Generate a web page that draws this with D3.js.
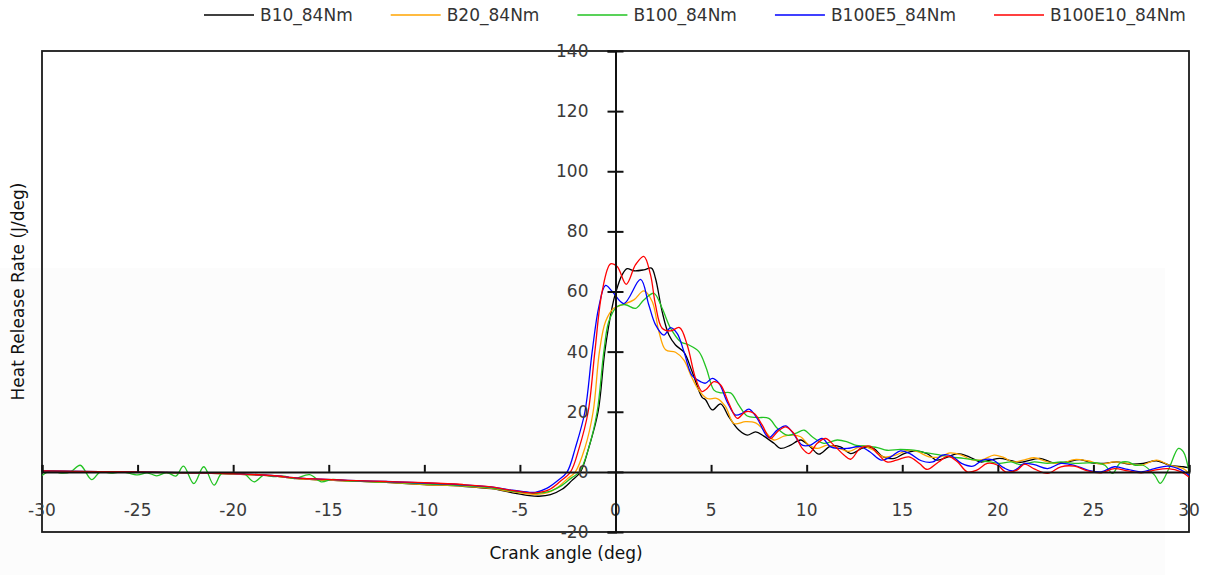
<!DOCTYPE html>
<html>
<head>
<meta charset="utf-8">
<script src="https://cdn.jsdelivr.net/npm/d3@7/dist/d3.min.js"></script>
<style>
  html, body { margin: 0; padding: 0; background: #ffffff; }
  svg { display: block; font-family: "DejaVu Sans", sans-serif; }
</style>
</head>
<body>
<svg id="chart" width="1208" height="575"></svg>
<script>
// ---------------- data ----------------
const seriesNames = ["B10_84Nm", "B20_84Nm", "B100_84Nm", "B100E5_84Nm", "B100E10_84Nm"];
const seriesColors = ["#000000", "#FFA500", "#22C322", "#0000FF", "#FF0000"];
const xTicks = [-30, -25, -20, -15, -10, -5, 0, 5, 10, 15, 20, 25, 30];
const yTicks = [-20, 0, 20, 40, 60, 80, 100, 120, 140];

// [crank angle (deg), heat release rate (J/deg)]
const B10 = [
  [-30,0.3],[-27,0.1],[-25,-0.1],[-22,-0.4],[-20,-0.7],[-18,-1.3],[-16.5,-2.3],[-14,-3.0],[-12,-3.5],
  [-10,-4.2],[-8,-4.8],[-6.5,-5.6],[-5.5,-6.8],[-4.5,-7.9],[-4.0,-8.1],[-3.4,-7.6],[-2.8,-5.8],[-2.3,-3.0],
  [-1.83,0],[-1.4,8],[-0.91,20],[-0.56,40],[-0.17,55],[0,59.4],[0.35,65.6],[0.61,67.6],[0.96,66.9],
  [1.48,67.2],[1.88,67.8],[2.09,64.4],[2.44,53.3],[2.79,45.6],[3.14,42.2],[3.58,39.8],[4.01,33.3],
  [4.53,24.8],[4.71,24],[5.06,20.6],[5.5,22.6],[5.93,18.3],[6.45,13.9],[6.89,12.2],[7.33,13.3],[7.76,11.9],
  [8.29,9.5],[8.63,7.8],[9.16,8.9],[9.68,10.6],[10.2,8.3],[10.64,5.9],[11.25,8.6],[11.77,8.3],[12.3,6.1],
  [13.0,8.1],[13.5,7.8],[14.0,5],[14.6,4.5],[15.1,6.1],[15.7,7],[16.3,6.1],[16.8,3.9],[17.4,5],[17.9,6.1],
  [18.5,5],[19.1,3.3],[19.6,3.9],[20.1,4.5],[20.7,3.7],[21.2,3.2],[22.2,4.5],[22.9,3],[23.6,3.3],[24.3,4.1],
  [24.9,3],[25.55,2.8],[26.2,3.3],[26.9,2.6],[27.6,2.8],[28.3,3.7],[29.0,2.2],[29.7,1.7],[30,1.4]
];
const B20 = [
  [-30,0.2],[-27,0],[-25,-0.1],[-22,-0.4],[-20,-0.7],[-18,-1.3],[-16.5,-2.3],[-14,-3.0],[-12,-3.5],
  [-10,-4.2],[-8,-4.7],[-6.5,-5.5],[-5.5,-6.5],[-4.5,-7.4],[-4.1,-7.5],[-3.5,-6.8],[-3.0,-5],[-2.5,-2.2],
  [-2.1,0],[-1.6,8],[-1.17,20],[-0.84,40],[-0.52,50],[-0.09,54.4],[0.35,55.6],[0.96,57.2],[1.48,60.2],
  [1.92,56.7],[2.27,46.7],[2.62,40.6],[3.14,39.8],[3.58,37.2],[3.95,32],[4.36,27.2],[4.8,24.4],[5.32,24.4],
  [5.76,21.7],[6.19,16.1],[6.8,16.7],[7.33,16.3],[7.76,13.9],[8.29,10.6],[8.81,11.9],[9.24,12.2],[9.68,11.7],
  [10.12,8.9],[10.55,7.8],[11.08,8.9],[11.6,8.1],[12.2,6.8],[12.9,8.6],[13.5,7.2],[14.0,5],[14.65,5.6],
  [15.3,7.2],[15.8,6.7],[16.4,5],[17.0,5],[17.5,6.3],[18.1,5.6],[18.6,4.1],[19.2,4.1],[19.8,5.6],[20.3,4.8],
  [20.8,3.3],[21.4,4.0],[21.9,4.7],[22.6,3.3],[23.3,2.8],[24.0,4.1],[24.7,3.7],[25.4,2.6],[26.1,3.3],
  [26.8,2.8],[27.5,2.2],[28.3,3.9],[29.0,2.2],[29.7,1.1],[30,-0.5]
];
const B100 = [
  [-30,-1.2],[-29.5,0.4],[-29,-0.4],[-28.5,0],[-28.0,2.2],[-27.4,-2.6],[-26.95,0],[-26.4,-0.4],[-25.8,0],
  [-25.0,-1.0],[-24.5,-0.3],[-24.0,-1.3],[-23.46,-0.2],[-23.0,-1.4],[-22.6,1.9],[-22.06,-3.9],[-21.54,1.7],
  [-21.0,-4.4],[-20.6,-0.5],[-20.0,-0.4],[-19.45,-0.5],[-18.9,-3.3],[-18.4,-1.1],[-17.9,-1.6],[-17.35,-1.4],
  [-16.8,-2.2],[-16.0,-0.9],[-15.4,-3.3],[-14.8,-2.5],[-14,-3],[-12,-3.4],[-10,-4.0],[-8,-4.6],[-6.5,-5.3],
  [-5.5,-6.3],[-4.5,-7.0],[-4.0,-7.1],[-3.4,-6.4],[-2.8,-4.5],[-2.3,-2.0],[-1.88,0],[-1.4,8],[-0.96,20],
  [-0.61,40],[-0.35,50],[0.09,55],[0.52,55.6],[1.05,54.4],[1.48,57.2],[2.01,59.4],[2.44,54.4],[2.88,47.8],
  [3.4,43.3],[3.84,42.2],[4.36,40],[4.75,34.5],[5.15,27.2],[5.5,26.3],[6.02,26.3],[6.45,22.2],[6.89,18.6],
  [7.41,18.1],[8.02,17.8],[8.46,14.5],[8.98,12.2],[9.42,12.8],[9.86,13.9],[10.29,11.7],[10.9,9.5],[11.6,10.6],
  [12.12,10],[12.6,8.8],[13.0,8.6],[13.7,8.1],[14.2,7.2],[14.9,7.5],[15.6,7.2],[16.3,6.3],[17.0,5.6],[17.5,5],
  [18.2,4.5],[18.9,3.9],[19.6,3.3],[20.1,2.8],[20.7,3.3],[21.2,2.4],[21.9,3.3],[22.6,2.8],[23.3,3.3],[24.0,2.8],
  [24.7,3],[25.2,3],[25.6,2.2],[26.0,-0.5],[26.4,3],[26.8,3.3],[27.2,2.2],[27.6,2.2],[28.2,-1.1],[28.5,-3.8],
  [28.95,1.1],[29.45,7.8],[29.7,6.7],[30,0]
];
const B100E5 = [
  [-30,0.3],[-27,0.1],[-25,0],[-22,-0.3],[-20,-0.6],[-18,-1.2],[-16.5,-2.1],[-14,-2.8],[-12,-3.2],
  [-10,-3.7],[-8,-4.3],[-6.5,-5.0],[-5.5,-6.0],[-4.5,-6.8],[-4.2,-6.8],[-3.6,-5.5],[-3.0,-2.8],[-2.53,0],
  [-2.1,8],[-1.6,20],[-1.22,40],[-0.87,55],[-0.52,62],[-0.17,60],[0.44,56],[1.31,64],[1.74,55.6],[2.09,49],
  [2.53,45.5],[2.88,48],[3.23,46],[3.58,40],[4.01,32],[4.45,30],[4.71,29.5],[5.06,31.1],[5.41,29.5],
  [5.84,23.3],[6.28,18.9],[6.63,19.5],[6.98,20.9],[7.41,17.8],[8.02,11.4],[8.46,13.9],[8.9,15.3],[9.24,13.3],
  [9.77,8.9],[10.2,8.9],[10.81,11.1],[11.25,8.3],[11.69,7.8],[12.12,7.8],[12.8,8.4],[13.3,6.7],[13.9,3.9],
  [14.4,5],[14.9,7],[15.4,6.1],[16.0,3.7],[16.6,3.3],[17.1,5.6],[17.6,5.2],[18.1,2.8],[18.7,1.9],[19.2,3.9],
  [19.7,4.1],[20.3,1.4],[20.8,0.3],[21.4,2.8],[21.9,2.4],[22.6,1.1],[23.3,2.8],[24.0,2.2],[24.7,0.6],
  [25.4,0],[26.1,1.7],[26.8,0.8],[27.5,0],[28.2,1.1],[28.9,1.9],[29.6,0.6],[30,-1.1]
];
const B100E10 = [
  [-30,0.3],[-27,0.1],[-25,0],[-22,-0.3],[-20,-0.6],[-18,-1.2],[-16.5,-2.1],[-14,-2.8],[-12,-3.2],
  [-10,-3.6],[-8,-4.2],[-6.5,-5.0],[-5.5,-6.1],[-4.5,-7.0],[-4.2,-7.0],[-3.5,-6.0],[-2.9,-3.2],[-2.35,0],
  [-1.9,8],[-1.43,20],[-1.08,40],[-0.70,60],[-0.26,69.2],[0.09,68.3],[0.56,62.4],[1.05,68.9],[1.48,71.7],
  [1.83,65.6],[2.09,55.6],[2.44,47.8],[2.88,46.9],[3.35,48],[3.75,42.2],[4.19,31.1],[4.53,26.7],[4.75,27.5],
  [5.15,30],[5.5,28.9],[5.93,22.8],[6.37,17.8],[6.8,20],[7.24,19.5],[7.67,15.6],[8.11,11.1],[8.46,13.3],
  [8.9,15],[9.33,12.8],[9.77,7.8],[10.12,6.1],[10.55,9.5],[10.99,11.1],[11.42,8.9],[11.95,5.6],[12.3,4.2],
  [12.8,7.8],[13.3,8.6],[13.7,6.1],[14.2,3.3],[14.7,3.9],[15.35,5],[15.9,2.8],[16.3,0.8],[16.9,3.3],
  [17.4,5.2],[17.9,3.3],[18.4,0],[18.9,0.6],[19.45,2.8],[20.0,2.2],[20.4,0],[21.0,0.6],[21.4,2.6],[21.9,1.0],
  [22.6,-0.5],[23.3,1.7],[24.0,1.9],[24.7,0.3],[25.4,-0.3],[26.1,1.1],[26.8,0.3],[27.5,-0.3],[28.2,0.6],
  [28.9,1.1],[29.6,0],[30,-1.7]
];
const seriesData = [B10, B20, B100, B100E5, B100E10];

// ---------------- layout ----------------
const svg = d3.select("#chart");
const plot = { left: 42, right: 1189, top: 51, bottom: 532 };
const x = d3.scaleLinear().domain([-30, 30]).range([plot.left, plot.right]);
const y = d3.scaleLinear().domain([-20, 140]).range([plot.bottom, plot.top]);

// faint background band (watermark area)
svg.append("rect").attr("x", 0).attr("y", 268).attr("width", 1165).attr("height", 307)
  .attr("fill", "#fcfcfc");

svg.append("defs").append("clipPath").attr("id", "clip")
  .append("rect").attr("x", plot.left).attr("y", plot.top)
  .attr("width", plot.right - plot.left).attr("height", plot.bottom - plot.top);

// plot frame
svg.append("rect").attr("x", plot.left).attr("y", plot.top)
  .attr("width", plot.right - plot.left).attr("height", plot.bottom - plot.top)
  .attr("fill", "none").attr("stroke", "#1a1a1a").attr("stroke-width", 1.8);

// series
const line = d3.line().x(d => x(d[0])).y(d => y(d[1])).curve(d3.curveCatmullRom.alpha(0.5));
const gLines = svg.append("g").attr("clip-path", "url(#clip)");

// x axis at y = 0, ticks upward, labels lower down
const xAxis = d3.axisTop(x).tickValues(xTicks).tickSize(7).tickFormat("");
const gx = svg.append("g").attr("transform", `translate(0,${y(0)})`).call(xAxis);
gx.select(".domain").attr("stroke", "#111").attr("stroke-width", 2);
gx.selectAll(".tick line").attr("stroke", "#111").attr("stroke-width", 2);
svg.append("g").selectAll("text").data(xTicks).join("text")
  .attr("x", d => x(d)).attr("y", y(0) + 44)
  .attr("text-anchor", "middle").attr("font-size", 17).attr("fill", "#3a3a3a")
  .text(d => d);

// y axis at x = 0, cross ticks
const yAxis = d3.axisLeft(y).tickValues(yTicks).tickSize(8).tickFormat("");
const gy = svg.append("g").attr("transform", `translate(${x(0)},0)`).call(yAxis);
gy.select(".domain").attr("stroke", "#111").attr("stroke-width", 2);
gy.selectAll(".tick line").attr("x2", 8).attr("x1", -8).attr("stroke", "#111").attr("stroke-width", 2);
svg.append("g").selectAll("text").data(yTicks).join("text")
  .attr("x", x(0) - 27).attr("y", d => y(d)).attr("dy", "0.35em")
  .attr("text-anchor", "end").attr("font-size", 17).attr("fill", "#3a3a3a")
  .text(d => d);

gLines.selectAll("path").data(seriesData).join("path")
  .attr("d", line).attr("fill", "none")
  .attr("stroke", (d, i) => seriesColors[i]).attr("stroke-width", 1.3);

// axis titles
svg.append("text").attr("transform", `translate(24,${(plot.top + plot.bottom) / 2}) rotate(-90)`)
  .attr("text-anchor", "middle").attr("font-size", 17).attr("fill", "#111")
  .text("Heat Release Rate (J/deg)");
svg.append("text").attr("x", 566).attr("y", 559)
  .attr("text-anchor", "middle").attr("font-size", 17).attr("fill", "#111")
  .text("Crank angle (deg)");

// legend
const lg = svg.append("g");
let lx = 204;
seriesNames.forEach((name, i) => {
  lg.append("line").attr("x1", lx).attr("x2", lx + 50).attr("y1", 15).attr("y2", 15)
    .attr("stroke", seriesColors[i]).attr("stroke-width", 1.3);
  const t = lg.append("text").attr("x", lx + 56).attr("y", 15).attr("dy", "0.35em")
    .attr("font-size", 17).attr("fill", "#333").text(name);
  lx += 56 + t.node().getComputedTextLength() + 38;
});
</script>
</body>
</html>
